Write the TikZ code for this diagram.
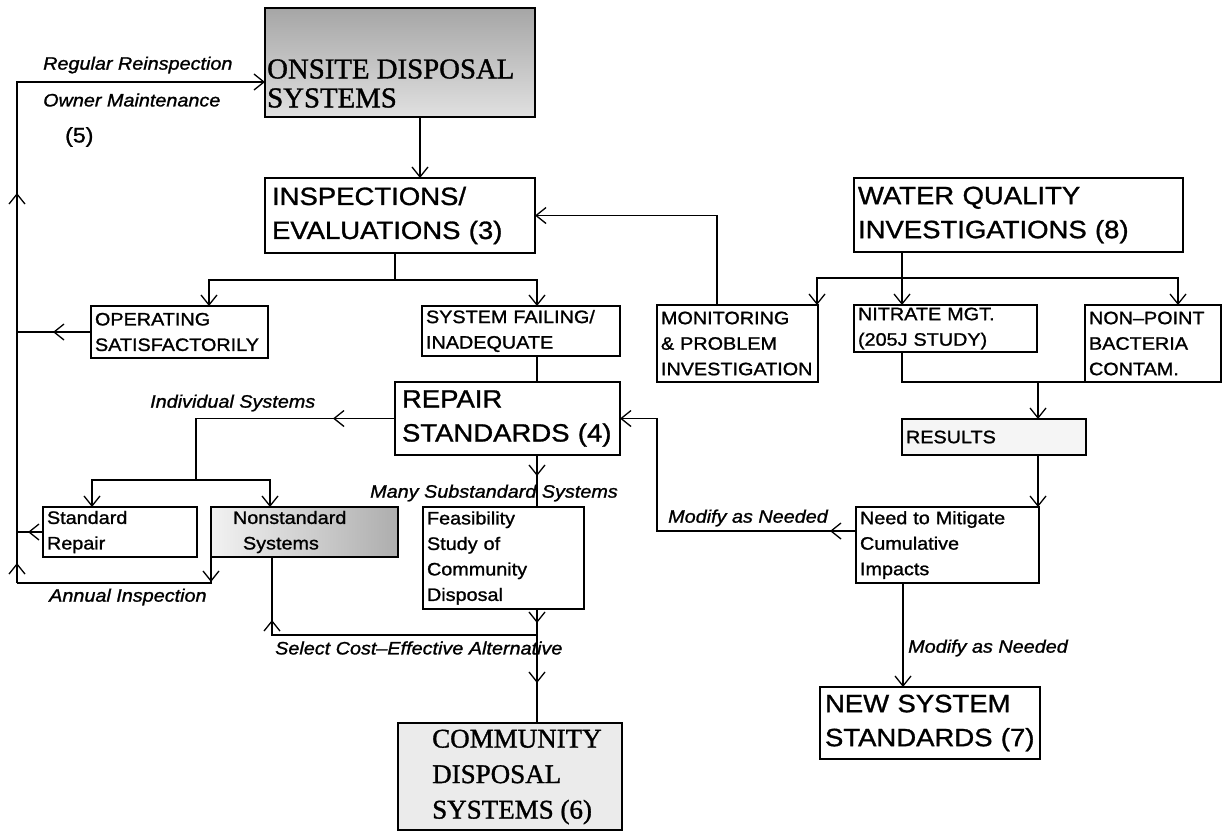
\documentclass[tikz,border=0pt]{standalone}
\usepackage{fontspec}
\setmainfont{Liberation Sans}[FakeStretch=1.1,FakeBold=1.2]
\newfontfamily\serifx{Liberation Serif}[FakeBold=1.2]
\usetikzlibrary{arrows.meta,calc,decorations.markings}
\tikzset{
  vtip/.tip={Straight Barb[length=10pt,width=16pt,line width=1.3pt]},
  ln/.style={line width=1.4pt},
  ar/.style={ln,-{vtip}},
  marr/.style={postaction={decorate,decoration={markings,mark=at position #1 with {\arrow{vtip}}}}},
  box/.style={draw,line width=1.4pt,anchor=north west,inner ysep=0pt,inner xsep=4pt,align=left,outer sep=0pt},
  big/.style={font=\fontsize{25}{34}\selectfont},
  small/.style={font=\fontsize{18}{25.5}\selectfont},
  lbl/.style={font=\fontsize{18}{22}\selectfont\itshape,anchor=west,inner sep=0pt},
  sertext/.style={anchor=west,inner sep=0pt,align=left},
}
\begin{document}
\begin{tikzpicture}[x=1pt,y=-1pt]
\useasboundingbox (0,0) rectangle (1224,831);
\fill[white] (0,0) rectangle (1224,831);

% boxes
\node[box,minimum width=270pt,minimum height=109pt,top color=black!35,bottom color=black!12] (onsite) at (265,8) {};
\node[sertext,font=\serifx\fontsize{28.8}{29}\selectfont] (onsitet) at (267,83.5) {ONSITE DISPOSAL\\SYSTEMS};
\node[box,big,inner xsep=7pt,minimum width=270pt,minimum height=75pt,text width=256pt] (insp) at (265,178) {INSPECTIONS/\\EVALUATIONS (3)};
\node[box,big,minimum width=329pt,minimum height=74pt,text width=321pt] (wq) at (854,178) {WATER QUALITY\\INVESTIGATIONS (8)};
\node[box,small,minimum width=177pt,minimum height=52pt,text width=169pt] (oper) at (91,306) {OPERATING\\SATISFACTORILY};
\node[box,small,minimum width=198pt,minimum height=50pt,text width=190pt] (fail) at (422,306) {SYSTEM FAILING/\\INADEQUATE};
\node[box,small,minimum width=161pt,minimum height=77pt,text width=153pt] (mon) at (657,305) {MONITORING\\\& PROBLEM\\INVESTIGATION};
\node[box,small,minimum width=183pt,minimum height=47pt,text width=175pt] (nit) at (854,305) {NITRATE MGT.\\(205J STUDY)};
\node[box,small,minimum width=136pt,minimum height=77pt,text width=128pt] (nonpt) at (1085,305) {NON–POINT\\BACTERIA\\CONTAM.};
\node[box,big,inner xsep=5pt,minimum width=225pt,minimum height=73pt,text width=215pt] (repair) at (395,382) {\hspace*{2pt}REPAIR\\\hspace*{2pt}STANDARDS (4)};
\node[box,small,minimum width=154pt,minimum height=50pt,text width=146pt] (std) at (43,507) {Standard\\Repair};
\node[box,small,inner xsep=22pt,minimum width=187pt,minimum height=50pt,text width=143pt,left color=black!5,right color=black!32] (nonstd) at (211,507) {Nonstandard\\\hspace*{10pt}Systems};
\node[box,small,minimum width=161pt,minimum height=102pt,text width=153pt] (feas) at (423,507) {Feasibility\\Study of\\Community\\Disposal};
\node[box,small,minimum width=184pt,minimum height=36pt,text width=176pt,fill=black!4] (results) at (902,419) {RESULTS};
\node[box,small,minimum width=183pt,minimum height=76pt,text width=175pt] (need) at (856,507) {Need to Mitigate\\Cumulative\\Impacts};
\node[box,big,inner xsep=3pt,minimum width=220pt,minimum height=72pt,text width=214pt] (newsys) at (820,687) {\hspace*{2pt}NEW SYSTEM\\\hspace*{2pt}STANDARDS (7)};
\node[box,minimum width=224pt,minimum height=107pt,fill=black!8] (comm) at (398,723) {};
\node[sertext,font=\serifx\fontsize{27}{35.5}\selectfont] (commt) at (432,777) {COMMUNITY\\DISPOSAL\\SYSTEMS (6)};

% onsite -> inspections
\draw[ar] ($(onsite.south west)+(155,0)$) -- ($(insp.north west)+(155,0)$);
% inspections -> branches
\coordinate (B1) at ($(insp.south west)+(130,27)$);
\draw[ln] ($(insp.south west)+(130,0)$) -- (B1);
\draw[ar] (B1) -| ($(oper.north west)+(118,0)$);
\draw[ar] (B1) -| ($(fail.north west)+(115,0)$);
\draw[ln] ($(fail.south west)+(115,0)$) -- ($(repair.north west)+(142,0)$);

% left loop
\coordinate (L1) at (17,82);
\coordinate (L2) at (17,583);
\draw[ln,marr=38pt] (oper.west) -- (oper.west -| L1);
\draw[ln,marr=15pt] (std.west) -- (std.west -| L1);
\draw[ar,marr=20pt,marr=390pt] (L2) -- (L1) -- (L1 -| onsite.west);
\coordinate (C2) at (nonstd.south west |- L2);
\draw[ln,marr=25pt] (nonstd.south west) -- (C2) -- (L2);

% repair -> individual systems
\coordinate (J1) at ($(repair.west)+(-199,0)$);
\coordinate (J2) at ($(J1)+(0,61.5)$);
\draw[ln,marr=62pt] (repair.west) -- (J1) -- (J2);
\draw[ar] (J2) -| ($(std.north west)+(49,0)$);
\draw[ar] (J2) -| ($(nonstd.north west)+(59,0)$);

% repair -> feasibility -> community
\draw[ln,marr=21pt] ($(repair.south west)+(142,0)$) -- ($(feas.north west)+(114,0)$);
\draw[ln,marr=14pt,marr=74pt] ($(feas.south west)+(114,0)$) -- ($(comm.north west)+(139,0)$);
\coordinate (K1) at ($(feas.south west)+(114,26)$);
\coordinate (K2) at ($(nonstd.south west)+(61,78)$);
\draw[ln,marr=280pt] (K1) -- (K2) -- ($(nonstd.south west)+(61,0)$);

% monitoring -> inspections
\draw[ar] ($(mon.north west)+(60,0)$) |- (insp.east);

% water quality branches
\draw[ar] ($(wq.south west)+(48,0)$) -- ($(nit.north west)+(48,0)$);
\coordinate (W1) at ($(wq.south west)+(48,26)$);
\draw[ar] (W1) -| ($(mon.north east)+(-1,0)$);
\draw[ar] (W1) -| ($(nonpt.north west)+(93,0)$);

% nitrate / nonpoint -> results
\draw[ln] ($(nit.south west)+(48,0)$) |- (nonpt.south west);
\coordinate (R1) at ($(results.north west)+(136,0)$);
\draw[ar] (R1 |- nonpt.south) -- (R1);
\draw[ar] ($(results.south west)+(136,0)$) -- ($(need.north west)+(182,0)$);

% need -> repair, need -> new system
\coordinate (N1) at ($(need.north west)+(0,24)$);
\coordinate (M1) at ($(N1)+(-199,0)$);
\draw[ar,marr=26pt] (N1) -- (M1) |- (repair.east);
\draw[ar] ($(need.south west)+(47,0)$) -- ($(newsys.north west)+(83,0)$);

% labels
\node[lbl] (l1) at (43,65) {Regular Reinspection};
\node[lbl] (l2) at (43,100) {Owner Maintenance};
\node[anchor=west,inner sep=0pt,font=\fontsize{21}{21}\selectfont] (l3) at (65,137) {(5)};
\node[lbl] (l4) at (150,403) {Individual Systems};
\node[lbl] (l5) at (370,493) {Many Substandard Systems};
\node[lbl] (l6) at (49,597) {Annual Inspection};
\node[lbl] (l7) at (275,648) {Select Cost–Effective Alternative};
\node[lbl] (l8) at (668,518) {Modify as Needed};
\node[lbl] (l9) at (908,648) {Modify as Needed};
\end{tikzpicture}
\end{document}
